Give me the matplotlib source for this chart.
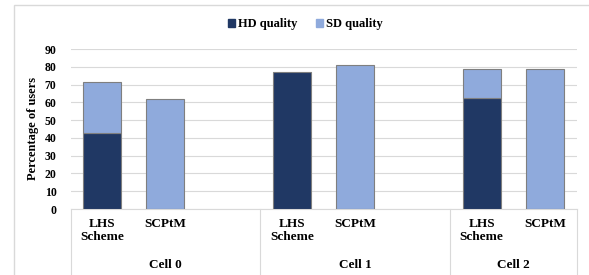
import matplotlib

matplotlib.use("Agg")
import matplotlib.pyplot as plt
from matplotlib.lines import Line2D
from matplotlib.patches import Rectangle
import matplotlib.transforms as mtransforms

# data
groups = ["Cell 0", "Cell 1", "Cell 2"]
schemes = ["LHS\nScheme", "SCPtM"]
hd_lhs = [43, 77, 62.5]
sd_lhs = [28.5, 0, 16.5]
sd_scptm = [62, 81, 79]
yticks = [0, 10, 20, 30, 40, 50, 60, 70, 80, 90]

HD_COLOR = "#203864"
SD_COLOR = "#8faadc"
EDGE = "#7f7f7f"
GRID = "#d9d9d9"

plt.rcParams["font.family"] = ["Liberation Serif", "DejaVu Serif"]
plt.rcParams["font.weight"] = "bold"
plt.rcParams["axes.labelweight"] = "bold"

W, H = 589, 275
fig = plt.figure(figsize=(W / 100, H / 100), dpi=100)
ax = fig.add_axes([70.5 / W, 1 - 209 / H, 506 / W, 160 / H])

# slot layout: LHS, SCPtM, (gap) per cell
slots = 3
x_lhs = [g * slots for g in range(len(groups))]
x_scp = [g * slots + 1 for g in range(len(groups))]

bw = 0.6
kw = dict(edgecolor=EDGE, linewidth=0.8, zorder=3)
ax.bar(x_lhs, hd_lhs, bw, color=HD_COLOR, **kw)
ax.bar(x_lhs, sd_lhs, bw, bottom=hd_lhs, color=SD_COLOR, **kw)
ax.bar(x_scp, sd_scptm, bw, color=SD_COLOR, **kw)
for b in ax.patches:
    if b.get_height() == 0:
        b.set_visible(False)

ax.set_xlim(-0.5, 7.5)
ax.set_ylim(0, 90)
ax.set_yticks(yticks)
ax.set_xticks([])
ax.tick_params(axis="y", length=0, labelsize=8.5, pad=10)
for t in ax.get_yticklabels():
    t.set_fontweight("bold")
ax.yaxis.grid(True, color=GRID, linewidth=0.8, zorder=0)
for s in ax.spines.values():
    s.set_visible(False)
ax.set_ylabel("Percentage of users", fontsize=9, labelpad=4)

# category axis: baseline, separators and labels
trans = mtransforms.blended_transform_factory(ax.transData, fig.transFigure)
y0 = 1 - 209 / H
ax.add_line(Line2D([-0.5, 7.5], [y0, y0], transform=trans, color=GRID, lw=0.8, clip_on=False))
for xs in [-0.5, 2.5, 5.5, 7.5]:
    ax.add_line(Line2D([xs, xs], [0, y0], transform=trans, color=GRID, lw=0.8, clip_on=False))

for g, name in enumerate(groups):
    for k, lab in enumerate(schemes):
        ax.text(g * slots + k, 1 - 218 / H, lab, transform=trans, ha="center", va="top",
                fontsize=9.5, linespacing=1.15)
    xc = g * slots + 1 if g < 2 else g * slots + 0.5
    ax.text(xc, 1 - 265 / H, name, transform=trans, ha="center", va="center", fontsize=9.5)

# outer chart frame
fig.add_artist(Rectangle((14 / W, -0.1), 1.2, 1 - 5 / H + 0.1, transform=fig.transFigure,
                         fill=False, edgecolor=GRID, linewidth=1))

handles = [Rectangle((0, 0), 1, 1, color=HD_COLOR), Rectangle((0, 0), 1, 1, color=SD_COLOR)]
fig.legend(handles, ["HD quality", "SD quality"], loc="center", bbox_to_anchor=(305 / W, 1 - 24 / H),
           ncol=2, frameon=False, fontsize=9, handlelength=0.6, handleheight=0.6,
           handletextpad=0.2, columnspacing=1.5)

fig.savefig("out.png", dpi=100)
